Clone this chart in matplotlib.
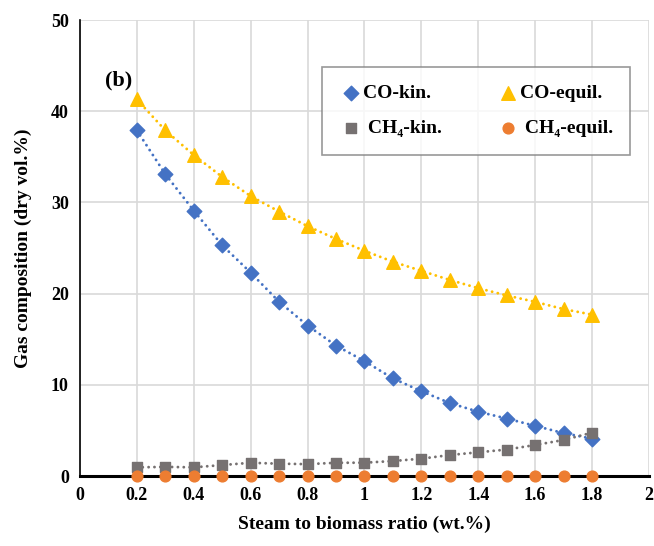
import matplotlib
matplotlib.use("Agg")
import matplotlib.pyplot as plt
import numpy as np

plt.rcParams['font.family'] = ['Liberation Serif', 'DejaVu Serif']
plt.rcParams['font.weight'] = 'bold'

ratio = [0.2, 0.3, 0.4, 0.5, 0.6, 0.7, 0.8, 0.9, 1.0,
         1.1, 1.2, 1.3, 1.4, 1.5, 1.6, 1.7, 1.8]
co_kin = [37.9, 33.1, 29.1, 25.3, 22.3, 19.1, 16.5, 14.3, 12.6,
          10.7, 9.3, 8.0, 7.05, 6.3, 5.5, 4.7, 4.1]
co_equil = [41.3, 37.9, 35.2, 32.8, 30.7, 29.0, 27.4, 26.0, 24.7,
            23.5, 22.5, 21.5, 20.6, 19.8, 19.1, 18.3, 17.7]
ch4_kin = [0.95, 1.0, 0.95, 1.2, 1.45, 1.35, 1.3, 1.45, 1.46,
           1.64, 1.9, 2.3, 2.6, 2.9, 3.4, 3.95, 4.75]
ch4_equil = [0.0] * 17

xticks = [0, 0.2, 0.4, 0.6, 0.8, 1, 1.2, 1.4, 1.6, 1.8, 2]
xticklabels = ['0', '0.2', '0.4', '0.6', '0.8', '1', '1.2', '1.4', '1.6', '1.8', '2']
yticks = [0, 10, 20, 30, 40, 50]

BLUE = '#4472C4'
YELLOW = '#FFC000'
GRAY = '#767171'
ORANGE = '#ED7D31'

fig = plt.figure(figsize=(6.54, 5.46), dpi=100)
ax = fig.add_axes([0.1223, 0.1282, 0.870, 0.835])

# dotted trend lines (round dots)
dots = (0, (0.01, 2.0))
for ys, c in [(co_kin, BLUE), (co_equil, YELLOW), (ch4_kin, GRAY), (ch4_equil, ORANGE)]:
    ax.plot(ratio, ys, color=c, linestyle=dots, lw=2.1,
            dash_capstyle='round', zorder=2, clip_on=False)

h1 = ax.scatter(ratio, co_kin, marker='D', s=55, color=BLUE, zorder=3)
h2 = ax.scatter(ratio, co_equil, marker='^', s=95, color=YELLOW, zorder=3)
h3 = ax.scatter(ratio, ch4_kin, marker='s', s=60, color=GRAY, zorder=3)
h4 = ax.scatter(ratio, ch4_equil, marker='o', s=60, color=ORANGE, zorder=3,
                clip_on=False)

ax.set_xlim(0, 2)
ax.set_ylim(0, 50)
ax.set_xticks(xticks)
ax.set_xticklabels(xticklabels)
ax.set_yticks(yticks)
ax.tick_params(length=0, labelsize=13, pad=8)
for lab in ax.get_xticklabels() + ax.get_yticklabels():
    lab.set_fontweight('bold')

ax.grid(True, color='#D9D9D9', lw=1.2)
ax.set_axisbelow(True)
for s in ['top', 'right']:
    ax.spines[s].set_visible(False)
ax.spines['left'].set_linewidth(1.2)
ax.spines['bottom'].set_linewidth(2.2)

ax.set_xlabel('Steam to biomass ratio (wt.%)', fontsize=14, fontweight='bold', labelpad=8)
ax.set_ylabel('Gas composition (dry vol.%)', fontsize=14, fontweight='bold', labelpad=14)

ax.text(0.044, 0.868, '(b)', transform=ax.transAxes, fontsize=16,
        fontweight='bold', va='center')

# legend filled row by row like the original
leg = ax.legend([h1, h3, h2, h4],
                ['CO-kin.', ' CH₄-kin.', 'CO-equil.', ' CH₄-equil.'],
                ncol=2, loc='upper right', bbox_to_anchor=(0.967, 0.897),
                borderaxespad=0.0,
                fontsize=14, frameon=True, fancybox=False, handletextpad=0.0,
                columnspacing=2.8, labelspacing=0.9, borderpad=0.9,
                handlelength=1.2, scatterpoints=1)
leg.get_frame().set_edgecolor('#7F7F7F')
leg.get_frame().set_linewidth(1.2)
for t in leg.get_texts():
    t.set_fontweight('bold')

fig.savefig('out.png', dpi=100)
